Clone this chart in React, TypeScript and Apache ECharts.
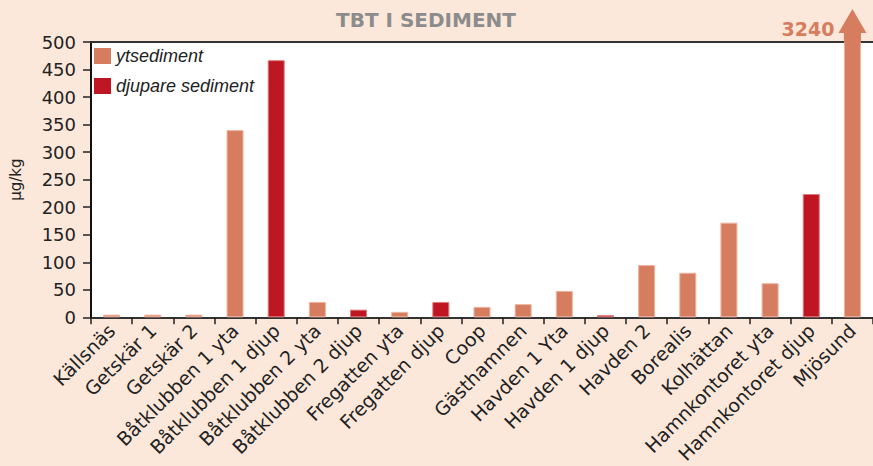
import React, { useEffect, useRef } from "react";
import * as echarts from "echarts";

const categories = [
  "Källsnäs", "Getskär 1", "Getskär 2", "Båtklubben 1 yta", "Båtklubben 1 djup",
  "Båtklubben 2 yta", "Båtklubben 2 djup", "Fregatten yta", "Fregatten djup", "Coop",
  "Gästhamnen", "Havden 1 Yta", "Havden 1 djup", "Havden 2", "Borealis",
  "Kolhättan", "Hamnkontoret yta", "Hamnkontoret djup", "Mjösund",
];
const ytsediment = [5, 5, 5, 340, null, 28, null, 10, null, 19, 24, 48, null, 95, 81, 172, 62, null, 3240];
const djupare = [null, null, null, null, 467, null, 14, null, 28, null, null, null, 4, null, null, null, null, 224, null];
const yTicks = { min: 0, max: 500, interval: 50 };
const outlierIndex = 18;
const outlierLabel = "3240";

const BG = "#fce8da";
const C_YT = "#d67d5f";
const C_DJ = "#be1622";
const FONT = "DejaVu Sans, Liberation Sans, sans-serif";
const FONT_L = "Liberation Sans, Arial, sans-serif";

export default function App() {
  const ref = useRef<HTMLDivElement>(null);
  useEffect(() => {
    const chart = echarts.init(ref.current!, null, { renderer: "svg" });
    chart.setOption({
      animation: false,
      backgroundColor: BG,
      textStyle: { fontFamily: FONT },
      title: {
        text: "TBT I SEDIMENT",
        left: 421,
        textAlign: "center",
        top: 5,
        textStyle: { fontSize: 20, fontWeight: 900, color: "#8c8c8c", fontFamily: FONT },
      },
      legend: {
        left: 94,
        top: 47,
        padding: 0,
        orient: "vertical",
        itemWidth: 17,
        itemHeight: 16,
        itemGap: 12,
        icon: "rect",
        itemStyle: { borderWidth: 0 },
        textStyle: { fontSize: 18, fontStyle: "italic", color: "#222", fontFamily: FONT_L },
        data: ["ytsediment", "djupare sediment"],
      },
      grid: {
        left: 87,
        right: -2,
        top: 42,
        bottom: 148,
        show: true,
        backgroundColor: "#ffffff",
        borderWidth: 0,
      },
      xAxis: [
        {
          type: "category",
          data: categories,
          axisLine: { lineStyle: { color: "#333", width: 2 } },
          axisTick: { show: true, length: 7, lineStyle: { color: "#222", width: 1.5 } },
          axisLabel: {
            rotate: 45,
            fontSize: 19,
            color: "#222",
            margin: 10,
            interval: 0,
            fontFamily: FONT,
          },
        },
        {
          type: "category",
          position: "top",
          data: categories,
          axisLine: { lineStyle: { color: "#333", width: 2 } },
          axisTick: { show: false },
          axisLabel: { show: false },
        },
      ],
      yAxis: {
        type: "value",
        min: yTicks.min,
        max: yTicks.max,
        interval: yTicks.interval,
        name: "µg/kg",
        nameLocation: "middle",
        nameRotate: 90,
        nameGap: 68,
        nameTextStyle: { fontSize: 15, color: "#222", fontFamily: FONT },
        axisLine: { show: true, lineStyle: { color: "#111", width: 2 } },
        axisTick: { show: true, length: 8, lineStyle: { color: "#222", width: 1.5 } },
        axisLabel: { fontSize: 18, color: "#222", margin: 15, fontFamily: FONT },
        splitLine: { show: false },
      },
      series: [
        {
          name: "ytsediment",
          type: "bar",
          data: ytsediment,
          barWidth: 17,
          barGap: "-100%",
          clip: true,
          itemStyle: { color: C_YT, borderColor: "#eeb3a0", borderWidth: 1 },
        },
        {
          name: "djupare sediment",
          type: "bar",
          data: djupare,
          barWidth: 17,
          barGap: "-100%",
          clip: true,
          itemStyle: { color: C_DJ, borderColor: "#e07a7a", borderWidth: 1 },
        },
      ],
    });

    const [cx, topY] = chart.convertToPixel({ xAxisIndex: 0, yAxisIndex: 0 }, [outlierIndex, yTicks.max]) as number[];
    const shaftTop = topY - 9;
    chart.setOption({
      graphic: [
        {
          type: "rect",
          shape: { x: cx - 8.5, y: shaftTop, width: 17, height: topY - shaftTop + 1 },
          style: { fill: C_YT },
          z: 100,
        },
        {
          type: "polygon",
          shape: { points: [[cx - 14, shaftTop], [cx + 14, shaftTop], [cx, shaftTop - 24]] },
          style: { fill: C_YT },
          z: 100,
        },
        {
          type: "text",
          x: cx - 18,
          y: shaftTop - 4,
          style: {
            text: outlierLabel,
            align: "right",
            verticalAlign: "middle",
            fontSize: 19,
            fontWeight: "bold",
            fill: C_YT,
            fontFamily: FONT,
          },
          z: 100,
        },
      ],
    });
    return () => chart.dispose();
  }, []);
  return <div ref={ref} style={{ width: 873, height: 466, position: "absolute", left: 0, top: 0 }} />;
}
